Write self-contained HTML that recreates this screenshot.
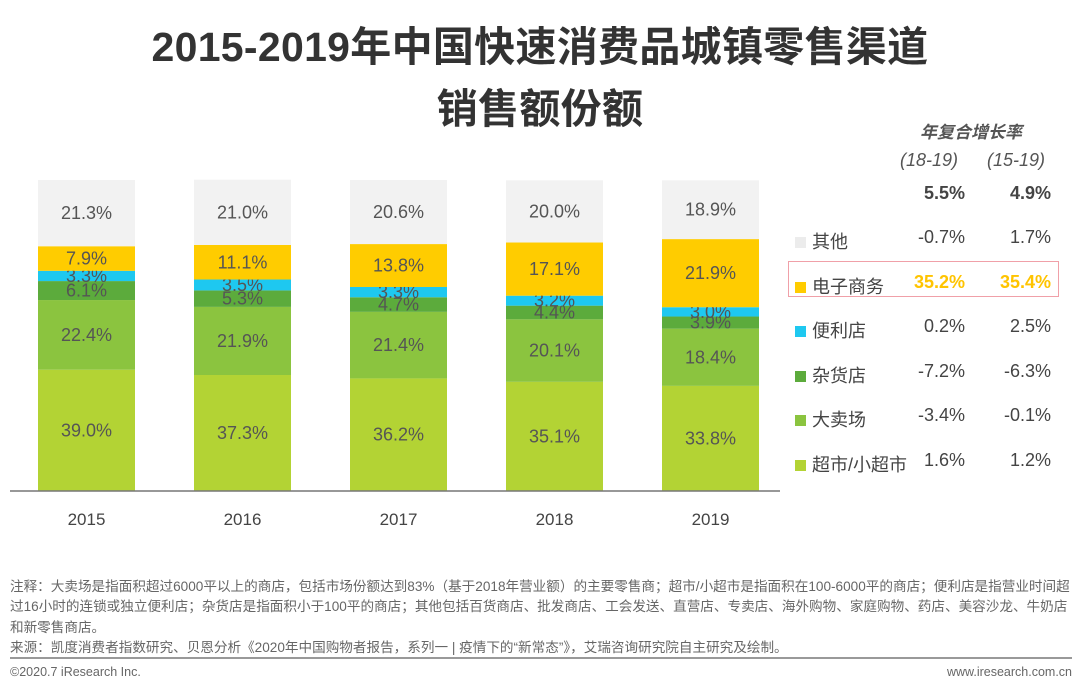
<!DOCTYPE html>
<html><head><meta charset="utf-8"><style>
body{margin:0;width:1080px;height:692px;background:#fff;font-family:"Liberation Sans","Noto Sans CJK SC",sans-serif;overflow:hidden;position:relative}
.t{position:absolute;left:0;width:1080px;text-align:center;font-weight:bold;font-size:41px;color:#333;letter-spacing:0.3px}
.leg{position:absolute;font-size:18px;color:#444}
.foot{position:absolute;left:10px;font-size:12.5px;color:#666;line-height:21px;width:1062px}
</style></head><body>
<div class="t" style="top:13px">2015-2019年中国快速消费品城镇零售渠道</div>
<div class="t" style="top:75px;left:0">销售额份额</div>
<svg id="chart" width="1080" height="692" style="position:absolute;left:0;top:0"></svg>
<div class="leg" style="left:920px;top:118px;font-style:italic;font-weight:bold;color:#555;font-size:17px">年复合增长率</div>
<div class="leg" style="left:900px;top:150px;font-style:italic;color:#555">(18-19)</div>
<div class="leg" style="left:987px;top:150px;font-style:italic;color:#555">(15-19)</div>
<div style="position:absolute;left:788px;top:261px;width:271px;height:36px;border:1.5px solid #f0a0a8;box-sizing:border-box"></div>
<div id="legend"></div>
<div style="position:absolute;left:10px;top:577px;width:1064px;font-size:13.6px;color:#666;line-height:20.3px">注释：大卖场是指面积超过6000平以上的商店，包括市场份额达到83%（基于2018年营业额）的主要零售商；超市/小超市是指面积在100-6000平的商店；便利店是指营业时间超过16小时的连锁或独立便利店；杂货店是指面积小于100平的商店；其他包括百货商店、批发商店、工会发送、直营店、专卖店、海外购物、家庭购物、药店、美容沙龙、牛奶店和新零售商店。<br>来源：凯度消费者指数研究、贝恩分析《2020年中国购物者报告，系列一 | 疫情下的“新常态”》，艾瑞咨询研究院自主研究及绘制。</div>
<div style="position:absolute;left:10px;top:657px;width:1062px;height:2px;background:#999"></div>
<div class="foot" style="top:662px">©2020.7 iResearch Inc.</div>
<div class="foot" style="top:662px;text-align:right">www.iresearch.com.cn</div>
<script>
const years=['2015','2016','2017','2018','2019'];
const superVals=[39.0,37.3,36.2,35.1,33.8];
const hyperVals=[22.4,21.9,21.4,20.1,18.4];
const groceryVals=[6.1,5.3,4.7,4.4,3.9];
const convVals=[3.3,3.5,3.3,3.2,3.0];
const ecomVals=[7.9,11.1,13.8,17.1,21.9];
const otherVals=[21.3,21.0,20.6,20.0,18.9];
const seriesNames=['其他','电子商务','便利店','杂货店','大卖场','超市/小超市'];
const cagr1=['-0.7%','35.2%','0.2%','-7.2%','-3.4%','1.6%'];
const cagr2=['1.7%','35.4%','2.5%','-6.3%','-0.1%','1.2%'];
const totalCagr=['5.5%','4.9%'];
const colors=['#f2f2f2','#ffcc00','#1ec8f0','#5cab3c','#8bc43f','#b3d334'];
const svg=document.getElementById('chart');const NS='http://www.w3.org/2000/svg';
const y0=491,H=311;
const y=v=>y0-v/100*H;
const x=i=>38+i*156;const bw=97;
const stacks=[superVals,hyperVals,groceryVals,convVals,ecomVals,otherVals];
const cidx=[5,4,3,2,1,0];
years.forEach((yr,i)=>{
 let acc=0;
 stacks.forEach((arr,s)=>{
  const v=arr[i];
  const r=document.createElementNS(NS,'rect');
  r.setAttribute('x',x(i));r.setAttribute('y',y(acc+v));r.setAttribute('width',bw);r.setAttribute('height',y(acc)-y(acc+v));r.setAttribute('fill',colors[cidx[s]]);
  
  
  svg.appendChild(r);
  const t=document.createElementNS(NS,'text');
  t.setAttribute('x',x(i)+bw/2);t.setAttribute('y',(y(acc)+y(acc+v))/2+6);t.setAttribute('text-anchor','middle');t.setAttribute('font-size','18');t.setAttribute('fill','#555');
  t.textContent=v.toFixed(1)+'%';
  
  
  svg.appendChild(t);
  acc+=v;
 });
 const l=document.createElementNS(NS,'text');
 l.setAttribute('x',x(i)+bw/2);l.setAttribute('y',525);l.setAttribute('text-anchor','middle');l.setAttribute('font-size','17');l.setAttribute('fill','#444');
 l.textContent=yr;
 
 
 svg.appendChild(l);
});
const ax=document.createElementNS(NS,'line');
ax.setAttribute('x1',10);ax.setAttribute('x2',780);ax.setAttribute('y1',y0);ax.setAttribute('y2',y0);ax.setAttribute('stroke','#777');ax.setAttribute('stroke-width','1.5');


svg.appendChild(ax);
const leg=document.getElementById('legend');
function addDiv(html,l,t,style,name){const d=document.createElement('div');d.className='leg';d.style.left=l+'px';d.style.top=t+'px';d.style.cssText+=style;d.innerHTML=html;


leg.appendChild(d);}
addDiv(totalCagr[0],920,183,'font-weight:bold;width:45px;text-align:right','total-cagr-1');
addDiv(totalCagr[1],1003,183,'font-weight:bold;width:48px;text-align:right','total-cagr-2');
seriesNames.forEach((n,k)=>{
 const top=228+k*44.5;
 const hl=k===1?'color:#ffc400;font-weight:bold;':'';
 addDiv('<span style="display:inline-block;width:11px;height:11px;background:'+(k===0?'#ececec':colors[k])+';margin-right:6px"></span>'+n,795,top,'','legend-entry');
 addDiv(cagr1[k],900,top-1,hl+'width:65px;text-align:right','cagr-18-19');
 addDiv(cagr2[k],980,top-1,hl+'width:71px;text-align:right','cagr-15-19');
});
</script>
</body></html>
